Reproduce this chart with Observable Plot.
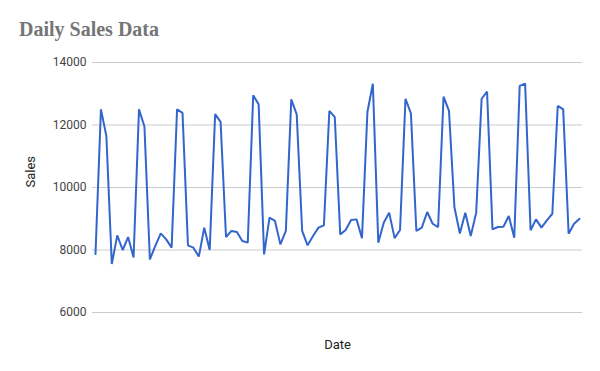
<!DOCTYPE html>
<html>
<head>
<meta charset="utf-8">
<script src="https://cdn.jsdelivr.net/npm/d3@7"></script>
<script src="https://cdn.jsdelivr.net/npm/@observablehq/plot@0.6"></script>
<style>
  html, body { margin: 0; padding: 0; background: #fff; }
  #wrap { position: relative; width: 600px; height: 371px; overflow: hidden; }
  #title { position: absolute; left: 19px; top: 18px; font-family: "Liberation Serif", "DejaVu Serif", serif; font-weight: bold; font-size: 20px; color: #757575; white-space: nowrap; }
  #chart { position: absolute; left: 0; top: 0; }
</style>
</head>
<body>
<div id="wrap">
  <div id="chart"></div>
  <div id="title">Daily Sales Data</div>
</div>
<script>
const title = "Daily Sales Data";
const xLabel = "Date";
const yLabel = "Sales";
const yTicks = [6000, 8000, 10000, 12000, 14000];
const sales = [
  7870, 12500, 11650, 7550, 8470, 8000, 8415, 7760,
  12500, 11950, 7700, 8130, 8530, 8340, 8075,
  12500, 12390, 8150, 8075, 7790, 8715, 8000,
  12350, 12100, 8415, 8610, 8575, 8290, 8235,
  12950, 12660, 7860, 9035, 8930, 8180, 8610,
  12820, 12340, 8610, 8150, 8450, 8715, 8790,
  12450, 12250, 8500, 8640, 8960, 8980, 8380,
  12415, 13320, 8235, 8875, 9195, 8380, 8640,
  12840, 12370, 8610, 8715, 9215, 8840, 8735,
  12905, 12450, 9370, 8530, 9195, 8450, 9195,
  12840, 13065, 8660, 8735, 8745, 9090, 8395,
  13250, 13325, 8630, 8980, 8715, 8950, 9160,
  12610, 12500, 8520, 8840, 9000
];
const data = sales.map((v, i) => ({day: i, sales: v}));

const chart = Plot.plot({
  width: 600,
  height: 371,
  marginLeft: 92,
  marginRight: 18,
  marginTop: 62,
  marginBottom: 59,
  style: {fontFamily: "Roboto, sans-serif", fontSize: "12px", background: "transparent"},
  x: {domain: [-0.55, sales.length - 1 + 0.55], axis: null},
  y: {domain: [6000, 14000], ticks: yTicks, grid: false},
  marks: [
    Plot.gridY(yTicks, {stroke: "#cccccc", strokeOpacity: 1, strokeWidth: 1}),
    Plot.axisY(yTicks, {tickSize: 0, tickPadding: 6, fill: "#444444", label: null, tickFormat: d => String(d), fontSize: 12}),
    Plot.line(data, {x: "day", y: "sales", stroke: "#3366cc", strokeWidth: 2, strokeLinejoin: "miter"}),
    Plot.text([yLabel], {frameAnchor: "left", dx: -62, rotate: -90, fill: "#222222", fontSize: 13, text: d => d}),
    Plot.text([xLabel], {frameAnchor: "bottom", dy: 36, fill: "#222222", fontSize: 13, text: d => d})
  ]
});
document.getElementById("chart").appendChild(chart);
document.getElementById("title").textContent = title;
</script>
</body>
</html>
